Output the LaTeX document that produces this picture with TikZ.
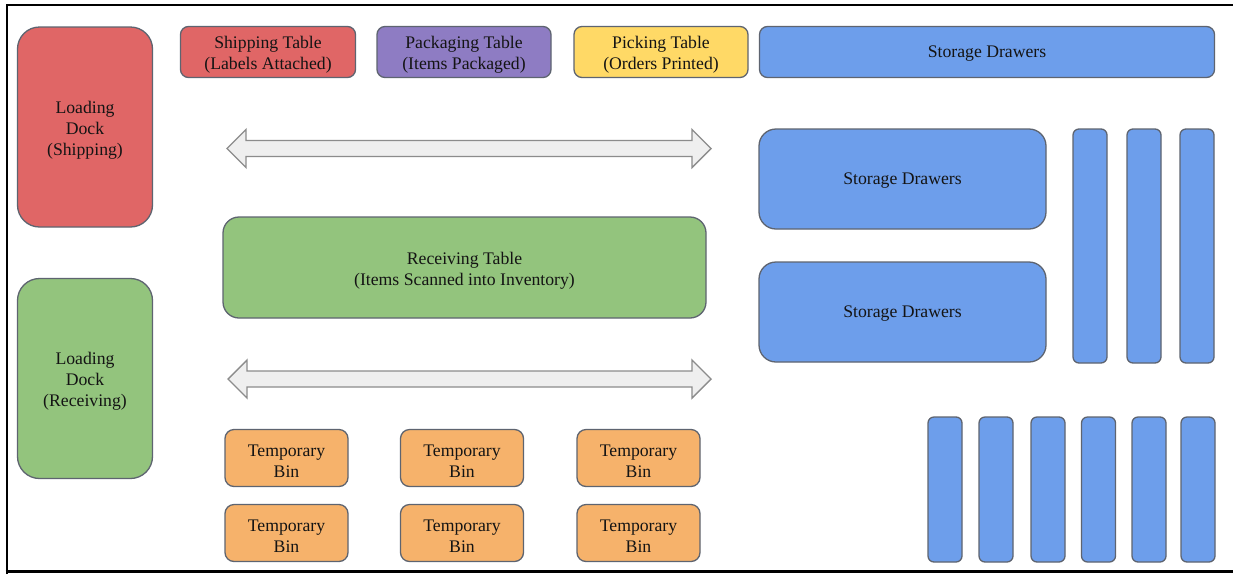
\documentclass[tikz,border=0pt]{standalone}
\usepackage{fontspec}
\setmainfont{Liberation Serif}
\definecolor{cred}{HTML}{E06666}
\definecolor{cpurple}{HTML}{8E7CC3}
\definecolor{cyellow}{HTML}{FFD966}
\definecolor{cblue}{HTML}{6D9EEB}
\definecolor{cgreen}{HTML}{93C47D}
\definecolor{corange}{HTML}{F6B26B}
\definecolor{cedge}{HTML}{5E6470}
\definecolor{ctext}{HTML}{141414}
\definecolor{carrowfill}{HTML}{EFEFEF}
\definecolor{carrowedge}{HTML}{8C8C8C}
\tikzset{
  blk/.style={draw=cedge, line width=1.3pt, inner sep=0pt, outer sep=0pt},
  lbl/.style={inner sep=0pt, align=center, text=ctext, font=\fontsize{17.7}{21}\selectfont},
  fatarrow/.style={draw=carrowedge, fill=carrowfill, line width=1.4pt, line join=miter},
  frameline/.style={line width=2.8pt, black}
}
\begin{document}
\begin{tikzpicture}[x=1pt,y=-1pt]
\useasboundingbox (0,0) rectangle (1233,574);
\fill[white] (0,0) rectangle (1233,574);
% frame
\draw[frameline] (7,574) -- (7,5) -- (1233,5);
\draw[frameline] (5.6,571.5) -- (1233,571.5);

% loading docks
\node[blk, fill=cred, minimum width=135, minimum height=200, rounded corners=22] (lds) at (85,127) {};
\node[lbl] (lds-t) at ([yshift=-3pt]lds.center) {Loading\\Dock\\(Shipping)};
\node[blk, fill=cgreen, minimum width=135, minimum height=200, rounded corners=22] (ldr) at (85,378.5) {};
\node[lbl] (ldr-t) at ([yshift=-3pt]ldr.center) {Loading\\Dock\\(Receiving)};

% top tables
\node[blk, fill=cred, minimum width=175, minimum height=51, rounded corners=8] (ship) at (268,52) {};
\node[lbl] (ship-t) at ([yshift=-3pt]ship.center) {Shipping Table\\(Labels Attached)};
\node[blk, fill=cpurple, minimum width=174, minimum height=51, rounded corners=8] (pack) at (464,52) {};
\node[lbl] (pack-t) at ([yshift=-3pt]pack.center) {Packaging Table\\(Items Packaged)};
\node[blk, fill=cyellow, minimum width=174, minimum height=51, rounded corners=8] (pick) at (661,52) {};
\node[lbl] (pick-t) at ([yshift=-3pt]pick.center) {Picking Table\\(Orders Printed)};
\node[blk, fill=cblue, minimum width=455, minimum height=51, rounded corners=8] (sd1) at (987,52) {};
\node[lbl] (sd1-t) at ([yshift=-2pt]sd1.center) {Storage Drawers};

% receiving table
\node[blk, fill=cgreen, minimum width=483, minimum height=101, rounded corners=16] (recv) at (464.5,267.5) {};
\node[lbl] (recv-t) at ([yshift=-3pt]recv.center) {Receiving Table\\(Items Scanned into Inventory)};

% storage drawers
\node[blk, fill=cblue, minimum width=287, minimum height=100, rounded corners=17] (sd2) at (902.5,179) {};
\node[lbl] (sd2-t) at ([yshift=-2pt]sd2.center) {Storage Drawers};
\node[blk, fill=cblue, minimum width=287, minimum height=100, rounded corners=17] (sd3) at (902.5,312) {};
\node[lbl] (sd3-t) at ([yshift=-2pt]sd3.center) {Storage Drawers};

% vertical bars (right, upper)
\foreach \cx [count=\i] in {1090,1144,1197}
  \node[blk, fill=cblue, minimum width=34, minimum height=234, rounded corners=6] (vb\i) at (\cx,246) {};

% vertical bars (bottom)
\foreach \cx [count=\i] in {945,996,1048,1098.5,1149,1198}
  \node[blk, fill=cblue, minimum width=34, minimum height=145, rounded corners=6] (bb\i) at (\cx,489.5) {};

% temporary bins
\foreach \cx [count=\i] in {286.5,462,638.5}{
  \node[blk, fill=corange, minimum width=123, minimum height=57, rounded corners=9] (tba\i) at (\cx,458) {};
  \node[lbl] (tba\i-t) at ([yshift=-3pt]tba\i.center) {Temporary\\Bin};
  \node[blk, fill=corange, minimum width=123, minimum height=57, rounded corners=9] (tbb\i) at (\cx,533) {};
  \node[lbl] (tbb\i-t) at ([yshift=-3pt]tbb\i.center) {Temporary\\Bin};
}

% double arrows
\draw[fatarrow] (227,148.5) -- (246,129.5) -- (246,140.5) -- (692,140.5) -- (692,129.5) -- (711,148.5)
  -- (692,167.5) -- (692,156.5) -- (246,156.5) -- (246,167.5) -- cycle;
\draw[fatarrow] (228,379) -- (247,360) -- (247,371) -- (692,371) -- (692,360) -- (711,379)
  -- (692,398) -- (692,387) -- (247,387) -- (247,398) -- cycle;
\end{tikzpicture}
\end{document}
